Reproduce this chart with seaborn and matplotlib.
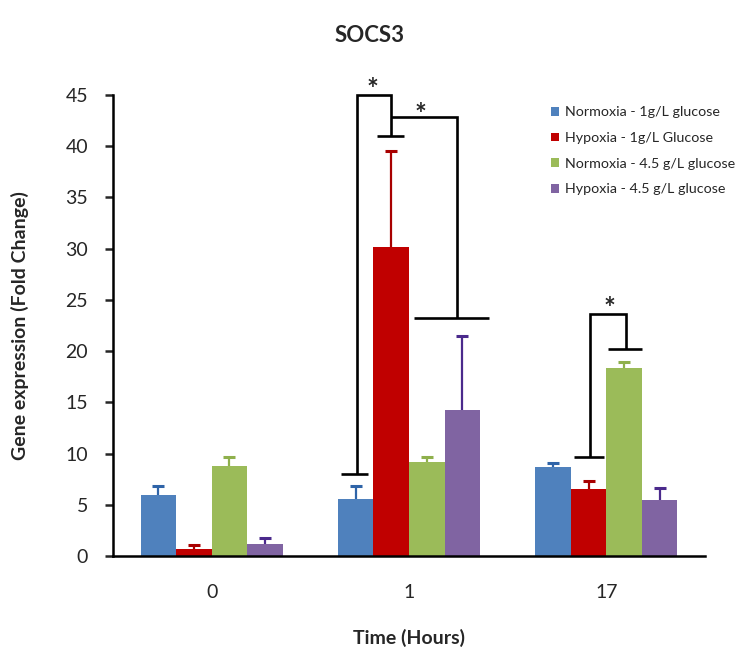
import numpy as np
import pandas as pd
import matplotlib
matplotlib.use('Agg')
import matplotlib.pyplot as plt
import seaborn as sns

# ============================================================
# DATA
# ============================================================
times = ['0', '1', '17']
conditions = ['Normoxia - 1g/L glucose', 'Hypoxia - 1g/L Glucose',
              'Normoxia - 4.5 g/L glucose', 'Hypoxia - 4.5 g/L glucose']

norm_1g = [6.0, 5.6, 8.7]
hyp_1g = [0.7, 30.2, 6.5]
norm_45g = [8.8, 9.2, 18.4]
hyp_45g = [1.15, 14.3, 5.45]

norm_1g_err = [0.8, 1.2, 0.4]
hyp_1g_err = [0.4, 9.3, 0.8]
norm_45g_err = [0.9, 0.5, 0.5]
hyp_45g_err = [0.6, 7.2, 1.15]

bar_colors = ['#4F81BD', '#C00000', '#9BBB59', '#8064A2']
err_colors = ['#2F64A8', '#A80000', '#8FB04C', '#4B2A8C']

# significance brackets: (x points, y points) in data units
brackets = [
    ([0.655, 0.79], [8.0, 8.0]),
    ([0.738, 0.738, 0.907, 0.907], [8.0, 45.0, 45.0, 40.95]),
    ([0.836, 0.975], [40.95, 40.95]),
    ([0.907, 1.245, 1.245], [42.85, 42.85, 23.2]),
    ([1.025, 1.405], [23.2, 23.2]),
    ([1.835, 1.99], [9.7, 9.7]),
    ([1.919, 1.919, 2.098, 2.098], [9.7, 23.6, 23.6, 20.2]),
    ([2.007, 2.181], [20.2, 20.2]),
]
stars_x = [0.816, 1.059, 2.015]
stars_y = [44.2, 41.8, 22.8]

values = [norm_1g, hyp_1g, norm_45g, hyp_45g]
errors = [norm_1g_err, hyp_1g_err, norm_45g_err, hyp_45g_err]

df = pd.DataFrame({
    'time': np.tile(times, len(conditions)),
    'condition': np.repeat(conditions, len(times)),
    'value': np.concatenate(values),
})

# ============================================================
# PLOT
# ============================================================
sns.set_style('white')
plt.rcParams['font.family'] = ['Lato', 'DejaVu Sans']

fig = plt.figure(figsize=(7.4, 6.63), dpi=100)
ax = fig.add_axes([0.1527, 0.1614, 0.80, 0.6953])

sns.barplot(data=df, x='time', y='value', hue='condition', order=times,
            hue_order=conditions, palette=bar_colors, saturation=1,
            width=0.72, errorbar=None, ax=ax, linewidth=0)

# upper-only error bars
for cont, errs, ec in zip(ax.containers, errors, err_colors):
    xs = [p.get_x() + p.get_width() / 2 for p in cont.patches]
    ys = [p.get_height() for p in cont.patches]
    eb = ax.errorbar(xs, ys, yerr=[np.zeros(len(errs)), errs], fmt='none',
                     ecolor=ec, elinewidth=1.6, capsize=4.5, capthick=2.2,
                     zorder=3)
    eb[1][0].set_visible(False)

for bx, by in brackets:
    ax.plot(bx, by, color='black', lw=1.9, clip_on=False, zorder=4,
            solid_capstyle='butt', solid_joinstyle='miter')
for sx, sy in zip(stars_x, stars_y):
    ax.text(sx, sy, '*', ha='center', va='bottom', fontsize=20,
            fontweight='bold', clip_on=False)

ax.set_xlim(-0.5, 2.5)
ax.set_ylim(0, 45)
ax.set_yticks(np.arange(0, 46, 5))
ax.set_xticks([0, 1, 2])
ax.set_xticks([-0.5, 0.5, 1.5, 2.5], minor=True)
ax.tick_params(axis='x', which='major', length=0, pad=20, labelsize=14)
ax.tick_params(axis='x', which='minor', length=7, width=1.8, direction='out')
ax.tick_params(axis='y', length=6, width=1.8, direction='out', pad=12,
               labelsize=14, left=True)

sns.despine(ax=ax)
for s in ['left', 'bottom']:
    ax.spines[s].set_linewidth(1.8)
    ax.spines[s].set_color('black')

ax.set_xlabel('Time (Hours)', fontsize=14, fontweight='bold', labelpad=20)
ax.set_ylabel('Gene expression (Fold Change)', fontsize=14, fontweight='bold',
              labelpad=26)
fig.suptitle('SOCS3', x=0.5, y=0.962, fontsize=16, fontweight='bold')

ax.legend(loc='upper left', bbox_to_anchor=(0.737, 0.848),
          bbox_transform=fig.transFigure, frameon=False, fontsize=10.3,
          handlelength=0.55, handleheight=0.55, handletextpad=0.4,
          labelspacing=0.95, borderaxespad=0)

fig.savefig('out.png', dpi=100)
